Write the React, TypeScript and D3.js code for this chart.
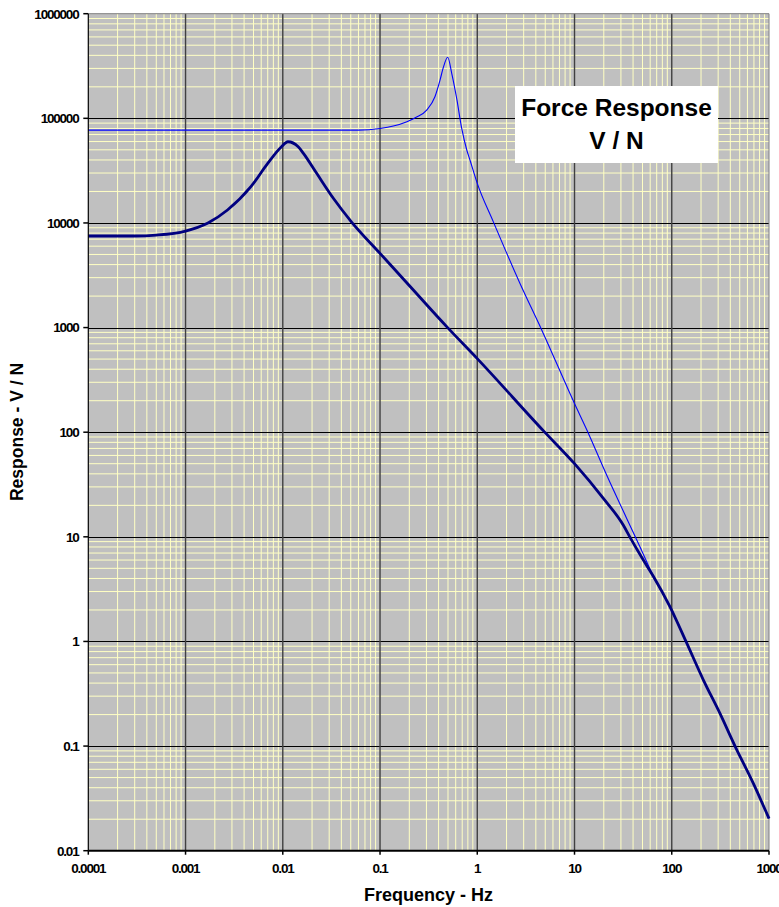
import React from "react";
import * as d3 from "d3";

const freqThin = [0.0001, 0.06, 0.1, 0.137, 0.189, 0.238, 0.302, 0.367, 0.414, 0.447, 0.497, 0.546, 0.614, 0.692, 0.78, 0.841, 1, 1.46, 2.75, 4.6, 10, 13.4, 21.4, 34.4, 47.2, 64.6, 96, 140, 211, 313, 447, 690, 1000];
const respThin = [77200, 77200, 80000, 84400, 92900, 103000, 120000, 161000, 232000, 305000, 383000, 269000, 155000, 80000, 49800, 40000, 23900, 10300, 2640, 950, 188, 105, 39, 15, 8.0, 4.2, 2.14, 1.0, 0.43, 0.205, 0.1, 0.044, 0.0203];

const freqThick = [0.0001, 0.0003, 0.0005, 0.001, 0.0017, 0.0027, 0.0047, 0.007, 0.0097, 0.0113, 0.0144, 0.0163, 0.0223, 0.0331, 0.051, 0.1, 0.22, 0.49, 1, 4.8, 10, 19.8, 31.8, 37, 51, 64.6, 96, 140, 211, 313, 447, 690, 1000];
const respThick = [7500, 7500, 7650, 8370, 10000, 13300, 22200, 37100, 53500, 59700, 53500, 46300, 29800, 17200, 10200, 5120, 2285, 1010, 505, 103, 50, 23.3, 12.9, 10, 6.0, 4.2, 2.14, 1.0, 0.43, 0.205, 0.1, 0.044, 0.0203];

const xTickLabels = ["0.0001", "0.001", "0.01", "0.1", "1", "10", "100", "1000"];
const yTickLabels = ["0.01", "0.1", "1", "10", "100", "1000", "10000", "100000", "1000000"];

const W = 779;
const H = 907;
const L = 88.3;
const R = 769;
const T = 13.7;
const B = 850.7;

export default function App() {
  const x = d3.scaleLog().domain([0.0001, 1000]).range([L, R]);
  const y = d3.scaleLog().domain([0.01, 1000000]).range([B, T]);

  const xMinor: number[] = [];
  for (let e = -4; e < 3; e++) for (let m = 2; m <= 9; m++) xMinor.push(m * Math.pow(10, e));
  const yMinor: number[] = [];
  for (let e = -2; e < 6; e++) for (let m = 2; m <= 9; m++) yMinor.push(m * Math.pow(10, e));
  const xMajor = xTickLabels.map(Number);
  const yMajor = yTickLabels.map(Number);

  const line = d3
    .line<[number, number]>()
    .x((d) => x(d[0]))
    .y((d) => y(d[1]))
    .curve(d3.curveMonotoneX);

  const thin = line(freqThin.map((f, i) => [f, respThin[i]] as [number, number])) || "";
  const thick = line(freqThick.map((f, i) => [f, respThick[i]] as [number, number])) || "";

  const tickFont = "'Liberation Sans', Arial, sans-serif";

  return (
    <svg width={W} height={H} style={{ position: "absolute", left: 0, top: 0, background: "#fff" }}>
      <rect x={L} y={T} width={R - L} height={B - T} fill="#c0c0c0" />
      {yMinor.map((v, i) => (
        <line key={"ym" + i} x1={L} x2={R} y1={y(v)} y2={y(v)} stroke="#ffffc4" strokeWidth={1} />
      ))}
      {xMinor.map((v, i) => (
        <line key={"xm" + i} x1={x(v)} x2={x(v)} y1={T} y2={B} stroke="#ffffc4" strokeWidth={1} />
      ))}
      {yMajor.slice(1, -1).map((v, i) => (
        <line key={"yM" + i} x1={L} x2={R} y1={Math.round(y(v)) + 0.5} y2={Math.round(y(v)) + 0.5} stroke="#000" strokeWidth={1} />
      ))}
      {xMajor.slice(1, -1).map((v, i) => (
        <line key={"xM" + i} x1={x(v)} x2={x(v)} y1={T} y2={B} stroke="#404040" strokeWidth={1.4} />
      ))}
      <line x1={L} x2={R} y1={T} y2={T} stroke="#808080" strokeWidth={1} />
      <line x1={R} x2={R} y1={T} y2={B} stroke="#808080" strokeWidth={1} />

      <path d={thin} fill="none" stroke="#0000ff" strokeWidth={1.1} />
      <path d={thick} fill="none" stroke="#000080" strokeWidth={2.8} strokeLinejoin="round" />

      <line x1={L} x2={L} y1={T} y2={B} stroke="#000" strokeWidth={1.2} />
      <line x1={L} x2={R} y1={B} y2={B} stroke="#000" strokeWidth={2} />
      {yMajor.map((v, i) => (
        <g key={"yt" + i}>
          <line x1={L - 5} x2={L} y1={y(v)} y2={y(v)} stroke="#000" strokeWidth={1.5} />
          <text
            x={78.5}
            y={y(v) + 4.8}
            textAnchor="end"
            fontFamily={tickFont}
            fontWeight="bold"
            fontSize={13.5}
            letterSpacing={-1.2}
            fill="#000"
          >
            {yTickLabels[i]}
          </text>
        </g>
      ))}
      {xMajor.map((v, i) => (
        <g key={"xt" + i}>
          <line x1={x(v)} x2={x(v)} y1={B} y2={B + 4} stroke="#000" strokeWidth={1.5} />
          <text
            x={x(v)}
            y={872.8}
            textAnchor="middle"
            fontFamily={tickFont}
            fontWeight="bold"
            fontSize={13.5}
            letterSpacing={-1.2}
            fill="#000"
          >
            {xTickLabels[i]}
          </text>
        </g>
      ))}

      <text x={428.5} y={901} textAnchor="middle" fontFamily={tickFont} fontWeight="bold" fontSize={18} fill="#000">
        Frequency - Hz
      </text>
      <text
        transform={`translate(23,${432}) rotate(-90)`}
        textAnchor="middle"
        fontFamily={tickFont}
        fontWeight="bold"
        fontSize={17.5}
        fill="#000"
      >
        Response - V / N
      </text>

      <rect x={515} y={86} width={203} height={77} fill="#fff" />
      <text x={616.5} y={116} textAnchor="middle" fontFamily={tickFont} fontWeight="bold" fontSize={24.5} fill="#000">
        Force Response
      </text>
      <text x={616.5} y={148.5} textAnchor="middle" fontFamily={tickFont} fontWeight="bold" fontSize={24.5} fill="#000">
        V / N
      </text>
    </svg>
  );
}
